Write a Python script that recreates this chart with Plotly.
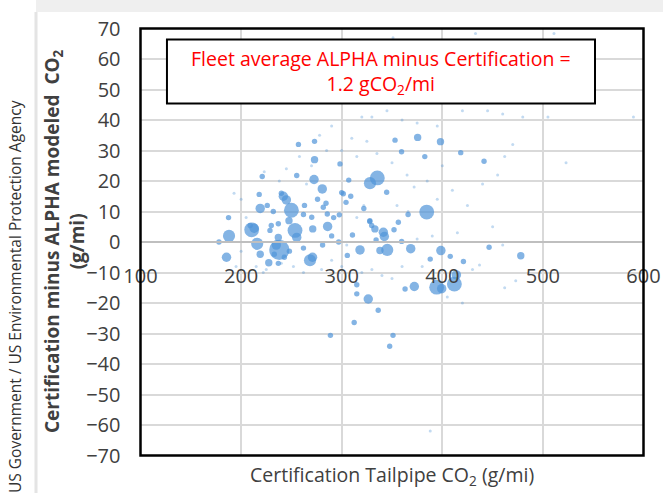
import plotly.graph_objects as go

# Certification tailpipe CO2 (g/mi), difference (g/mi), relative sales volume
cert_co2 = [188, 185.5, 178, 187.5, 210.5, 213, 216, 219, 219, 227.5,
            238, 235, 237, 221, 218, 209, 228.7, 230, 237, 237,
            242, 245, 250, 247.6, 253.6, 255.3, 255.3, 257, 270.2, 271.2,
            268.5, 271, 272.5, 273, 273, 280.7, 281.7, 284.4, 285.7, 286,
            297.6, 298.3, 301.6, 304.3, 309, 307, 310.7, 305.6, 318.2, 328.1,
            335.4, 328, 329.8, 333, 341.4, 342.4, 338, 345.3, 344.7, 356.3,
            359.6, 368.6, 359.5, 353, 375.5, 382.6, 384.5, 398.2, 418.3, 441.5,
            398.6, 407.9, 388, 414, 412, 394.4, 399.4, 372.2, 363, 326.4,
            315, 315, 336.3, 312.4, 288.8, 351, 347.7, 478, 446.5, 421,
            300, 327.9, 334.2, 240, 232, 263, 262, 290, 297, 281,
            262, 248, 226, 233, 243, 276, 292, 322, 352, 366]
diff = [2, -5, 0, 8, 4, 4.5, -0.6, 11, -4, -6.8,
        -2.6, -1, 1.5, 21.5, 15.6, 5.4, 3.8, 5.4, 6, -7,
        15, 13.8, 10.4, 7, 3.8, 1.5, 21.8, 32, 8.1, 4.3,
        -6, -5, 20.5, 27, 33, 17.4, 11.4, 12.7, 9.2, 5.1,
        8.9, 25.6, 15.8, 13, 15, 20.3, 2.3, -4.4, -2.6, 19.3,
        21, 7, 5.4, 4.3, 3.2, 1.8, -2.8, -2.6, 16.3, 6.5,
        0.2, -2.2, 29.6, 33.4, 34.3, 28, 9.8, 32.9, 29.3, 26.5,
        -2.8, -4.7, -5.6, -10.8, -13.8, -14.8, -15.3, -14.6, -15.4, -18.7,
        -17, -14, -22.4, -26.4, -30.6, -30.6, -34.2, -4.5, -1.7, -6.4,
        16.2, 6.7, 0.7, 16, 10, 12, 9, 2, 0, -1,
        -2, -3, 12, -4, -5, 14, 8, 11, 4, 9]
volume = [810, 490, 160, 160, 1210, 490, 810, 490, 300, 300,
          2250, 490, 300, 160, 160, 160, 160, 160, 160, 160,
          490, 490, 1210, 300, 1210, 490, 160, 160, 160, 300,
          810, 490, 490, 300, 160, 490, 160, 160, 160, 490,
          160, 160, 160, 160, 160, 160, 160, 160, 490, 810,
          1210, 160, 160, 300, 490, 490, 300, 810, 160, 160,
          160, 490, 160, 160, 300, 160, 1210, 300, 160, 160,
          490, 160, 160, 490, 1210, 1210, 490, 490, 160, 490,
          160, 160, 160, 160, 160, 160, 160, 300, 160, 160,
          160, 160, 160, 160, 160, 160, 160, 160, 160, 160,
          160, 160, 160, 160, 160, 160, 160, 160, 160, 160]

# low-volume models (faint tiny markers)
low_co2 = [223, 278, 290, 310, 320, 330, 345, 360, 375, 395,
           420, 445, 460, 480, 505, 590, 523, 462, 470, 455,
           440, 425, 410, 415, 450, 460, 437, 473, 462, 430,
           420, 405, 390, 380, 360, 350, 340, 330, 320, 300,
           290, 280, 262, 252, 240, 225, 215, 200, 195, 205,
           200, 193, 270, 285, 300, 315, 325, 335, 350, 365,
           372, 385, 400, 395, 390, 375, 366, 355, 322, 315,
           305, 265, 258, 245, 238, 222, 388, 351, 433, 511]
low_diff = [23, 35, 38, 34, 41, 41, 43, 40, 39, 38,
            43, 43, 42, 41, 41, 41, 26, 28, 32, 22,
            19, 12, 17, 3, 5, -1, -7.5, -12.7, -15, -9,
            -20, -18, -12, -8, -8, -12, -11, -9, -10, -8,
            -6, -9, -10, -8, -7, -9, -8, -3, -8, 8,
            14, 16, 25, 30, 30, 28, 33, 29, 26, 22,
            18, 20, 25, 14, 2, 1, 10, 12, 12, 8,
            -1, 19, 28, 24, 20, -10, -62, 67, 68.4, 68.4]

X_RANGE = [100, 600]
Y_RANGE = [-70, 70]

BLUE = "#5094D8"
W, H = 663, 493
x0p, x1p = 140.5, 643.5
ytop, ybot = 28.5, 455.5
XDOM = [x0p / W, x1p / W]
YDOM = [(H - ybot) / H, (H - ytop) / H]

fig = go.Figure()
fig.add_trace(go.Scatter(
    x=low_co2, y=low_diff, mode="markers", hoverinfo="skip",
    marker=dict(color=BLUE, size=3, opacity=0.35, line=dict(width=0)),
))
fig.add_trace(go.Scatter(
    x=cert_co2, y=diff, mode="markers",
    marker=dict(color=BLUE, size=volume, sizemode="area", sizeref=11,
                line=dict(width=0)),
))

tickfont = dict(family="Open Sans", size=20, color="#404040")
fig.update_layout(
    width=W, height=H, autosize=False,
    margin=dict(l=0, r=0, t=0, b=0, pad=0, autoexpand=False),
    paper_bgcolor="white", plot_bgcolor="white", showlegend=False,
    xaxis=dict(domain=XDOM, range=X_RANGE, tick0=100, dtick=100,
               showgrid=True, gridcolor="#d9d9d9", gridwidth=2, zeroline=False,
               anchor="free", position=(H - (ytop + ybot) / 2) / H, automargin=False,
               showline=True, linecolor="#bfbfbf", linewidth=2,
               ticks="", ticklabelstandoff=16, tickfont=tickfont),
    yaxis=dict(domain=YDOM, range=Y_RANGE, tick0=-70, dtick=10,
               showgrid=True, gridcolor="#d9d9d9", gridwidth=2, zeroline=False, automargin=False,
               showline=False, ticks="", ticklabelstandoff=19, tickfont=tickfont),
)

shapes = [
    # page shadow
    dict(type="rect", xref="paper", yref="paper", x0=36 / W, x1=1, y0=(H - 12) / H, y1=1,
         fillcolor="#efefef", line=dict(width=0), layer="below"),
    dict(type="line", xref="paper", yref="paper", x0=36 / W, x1=36 / W, y0=0, y1=(H - 12) / H,
         line=dict(color="#e4e4e4", width=3), layer="below"),
    # text box
    dict(type="rect", xref="x", yref="y", x0=126.3, x1=551.8, y0=45.4, y1=66.4,
         line=dict(color="black", width=2), fillcolor="white", layer="above"),
    # plot border (on the plot-area domain)
    dict(type="rect", xref="paper", yref="paper", x0=XDOM[0], x1=XDOM[1], y0=YDOM[0], y1=YDOM[1],
         line=dict(color="black", width=2.5), fillcolor="rgba(0,0,0,0)", layer="above"),
]
fig.update_layout(shapes=shapes)

fig.add_annotation(xref="x", yref="y", x=339, y=55.8, showarrow=False,
                   xanchor="center", yanchor="middle",
                   text="Fleet average ALPHA minus Certification =<br>1.2 gCO<sub>2</sub>/mi",
                   font=dict(family="Open Sans", size=19.5, color="#ff0000"), align="center")
fig.add_annotation(xref="paper", yref="paper", x=65 / W, y=(H - 241) / H, showarrow=False,
                   xanchor="center", yanchor="middle",
                   textangle=-90, align="center",
                   text="<b>Certification minus ALPHA modeled  CO<sub>2</sub></b><br><b>(g/mi)</b>",
                   font=dict(family="Open Sans", size=19, color="#404040"))
fig.add_annotation(xref="paper", yref="paper", x=392 / W, y=(H - 475) / H, showarrow=False,
                   xanchor="center", yanchor="middle",
                   text="Certification Tailpipe CO<sub>2</sub> (g/mi)",
                   font=dict(family="Open Sans", size=19.5, color="#404040"))
fig.add_annotation(xref="paper", yref="paper", x=15 / W, y=(H - 297) / H, showarrow=False,
                   xanchor="center", yanchor="middle",
                   textangle=-90, text="US Government / US Environmental Protection Agency",
                   font=dict(family="Open Sans", size=15.5, color="#333333"))

fig.write_html("out.html")
